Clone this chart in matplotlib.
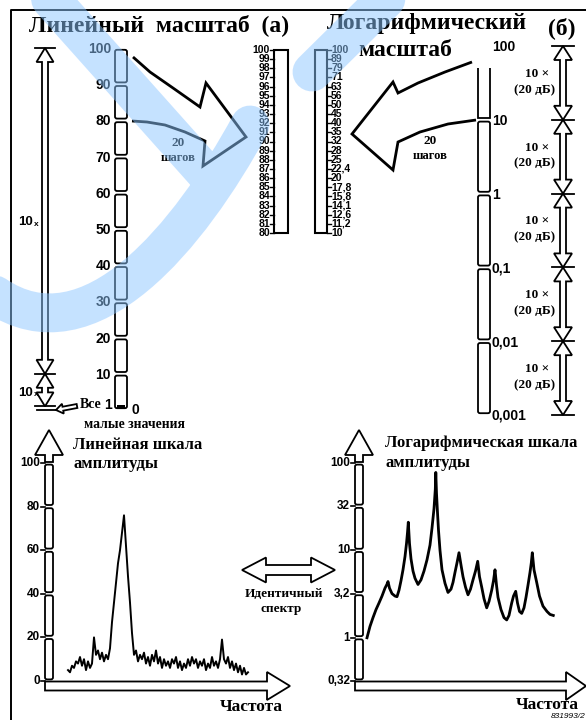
import numpy as np
import matplotlib
matplotlib.use("Agg")
import matplotlib.pyplot as plt
from matplotlib.patches import FancyBboxPatch, Polygon, PathPatch, Rectangle
from matplotlib.path import Path

W, H = 586, 720

# linear scale: coarse steps and the 80..100 stretch in single steps
lin_ticks = [0, 10, 20, 30, 40, 50, 60, 70, 80, 90, 100]
lin_fine = list(range(80, 101))
# logarithmic scale: decades and 1 dB steps between 10 and 100
log_ticks = [0.001, 0.01, 0.1, 1, 10, 100]
log_tick_labels = ["0,001", "0,01", "0,1", "1", "10", "100"]
log_fine_db = list(range(20, 41))
log_fine_labels = ["10", "11,2", "12,6", "14,1", "15,8", "17,8", "20", "22,4",
                   "25", "28", "32", "35", "40", "45", "50", "56", "63", "71",
                   "79", "89", "100"]

# amplitude axes of the two spectra
amp_lin_ticks = [0, 20, 40, 60, 80, 100]
amp_log_ticks = [0.32, 1, 3.2, 10, 32, 100]
amp_log_labels = ["0,32", "1", "3,2", "10", "32", "100"]

# spectrum on linear amplitude, one value per frequency step
spec_lin = [5, 4, 7, 6, 9, 8, 11, 7, 10, 5, 9, 6, 8, 20, 12, 14, 10, 13, 9, 12,
            10, 15, 27, 36, 45, 54, 60, 68, 76, 62, 48, 36, 22, 12, 14, 9, 12, 10,
            13, 8, 11, 7, 12, 9, 14, 8, 11, 6, 10, 7, 9, 6, 10, 8, 11, 6, 9, 5,
            8, 6, 10, 7, 11, 8, 10, 6, 9, 7, 10, 5, 8, 6, 11, 7, 9, 6, 10, 19,
            10, 8, 11, 6, 9, 5, 8, 4, 7, 3, 6, 3, 4]

# spectrum on logarithmic amplitude
spec_log_f = [0, 3, 6, 9, 12, 15, 18, 20, 21, 22.5, 25, 28, 30, 32, 34, 36,
              38, 39.5, 40.5, 41.3, 42.5, 44, 46, 48, 51, 54, 57, 60, 63, 65,
              67, 68.3, 68.8, 69.5, 70.5, 71.5, 73, 75, 78, 81, 84, 86, 88, 90,
              92, 94, 96, 98.5, 101, 103.5, 106, 108.5, 110.7, 112.5, 114.7,
              117, 119.7, 122, 124.7, 126.5, 128, 129.5, 131, 134, 137, 139.7,
              142, 144.7, 146.5, 148.7, 150.5, 152.5, 154.7, 157, 159, 161,
              163, 164.3, 165.3, 167, 169.7, 172.5, 176, 180, 183, 186.3]
spec_log_a = [1.0, 1.35, 1.7, 2.1, 2.5, 3.0, 3.7, 4.1, 4.4, 3.7, 3.2, 3.0,
              2.95, 3.5, 4.5, 6.0, 8.5, 12, 16, 21, 12, 8.0, 5.8, 4.8, 4.07,
              4.6, 5.8, 7.8, 11.5, 18, 30, 50, 78, 45, 27, 17, 10, 6.0, 4.2,
              3.3, 3.6, 4.3, 5.6, 7.2, 9.4, 6.8, 5.0, 3.8, 3.1, 3.6, 4.6, 5.8,
              7.5, 5.0, 3.8, 2.8, 2.2, 2.6, 3.5, 4.5, 6.0, 4.0, 2.9, 2.1, 1.7,
              1.6, 1.8, 2.5, 3.0, 3.4, 2.5, 2.0, 1.9, 2.2, 2.9, 4.0, 5.6, 7.2,
              9.4, 6.0, 4.3, 3.0, 2.3, 2.0, 1.85, 1.8]

SERIF = "Liberation Serif"
SANS = "Liberation Sans"

fig = plt.figure(figsize=(W / 100, H / 100), dpi=100)
cv = fig.add_axes([0, 0, 1, 1])
cv.set_xlim(0, W)
cv.set_ylim(H, 0)
cv.axis("off")


def sub_axes(x0, y0, x1, y1):
    a = fig.add_axes([x0 / W, 1 - y1 / H, (x1 - x0) / W, (y1 - y0) / H])
    a.axis("off")
    return a


def to_px(a, v):
    return H - a.transData.transform((0, v))[1]


def seg_box(x0, x1, ya, yb, gap=1.8, lw=1.3, r=2):
    yt, yb2 = min(ya, yb) + gap, max(ya, yb) - gap
    cv.add_patch(FancyBboxPatch((x0, yt), x1 - x0, yb2 - yt,
                                boxstyle=f"round,pad=0,rounding_size={r}",
                                fc="white", ec="black", lw=lw))


def hollow_arrow(p0, p1, shaft, head_w, head_l, heads=(False, True), lw=1.3):
    p0, p1 = np.array(p0, float), np.array(p1, float)
    d = p1 - p0
    u = d / np.hypot(*d)
    n = np.array([-u[1], u[0]])
    s, h = shaft / 2, head_w / 2
    pts = []
    if heads[0]:
        b0 = p0 + u * head_l
        pts += [p0, b0 + n * h, b0 + n * s]
    else:
        pts += [p0 + n * s]
    if heads[1]:
        b1 = p1 - u * head_l
        pts += [b1 + n * s, b1 + n * h, p1, b1 - n * h, b1 - n * s]
    else:
        pts += [p1 + n * s, p1 - n * s]
    if heads[0]:
        pts += [b0 - n * s, b0 - n * h]
    else:
        pts += [p0 - n * s]
    cv.add_patch(Polygon(pts, closed=True, fc="white", ec="black", lw=lw,
                         joinstyle="miter"))


def stack_arrows(x, ys, half=11, head_w=18):
    # chain of double arrows, X-crossings at the inner points
    for ya, yb in zip(ys[:-1], ys[1:]):
        hollow_arrow((x, ya), (x, yb), 6, head_w, 14, heads=(True, True))
    for y in ys:
        cv.plot([x - half, x + half], [y, y], color="black", lw=1.3)


def num(x, y, s, size=10, ha="right", **kw):
    cv.text(x, y, s, ha=ha, va="center", fontsize=size, fontweight="bold",
            family=SANS, **kw)


def word(x, y, s, size=10, ha="center", **kw):
    cv.text(x, y, s, ha=ha, va="center", fontsize=size, fontweight="bold",
            family=SERIF, **kw)


# frame
cv.plot([11, 11, W], [H, 10, 10], color="black", lw=1.4)

# titles
word(159, 25, "Линейный  масштаб  (а)", 17)
word(427, 24, "Логарифмический", 17)
word(405, 50, "масштаб", 17)
word(562, 28, "(б)", 17)

# ---- linear scale ----
lin_ax = sub_axes(115, 48, 127, 410)
lin_ax.set_ylim(0, 100)
for lo, hi in zip(lin_ticks[:-1], lin_ticks[1:]):
    seg_box(115, 127, to_px(lin_ax, hi), to_px(lin_ax, lo))
for v in lin_ticks[1:]:
    num(111, to_px(lin_ax, v) + 1, str(v), 10)
y0 = to_px(lin_ax, 0)
cv.add_patch(Rectangle((117, y0 - 5), 8, 3.5, fc="black", ec="none"))
num(131, y0, "0", 10, ha="left")

# decade arrows next to it
stack_arrows(45, [to_px(lin_ax, 100), to_px(lin_ax, 10), to_px(lin_ax, 1)],
             half=10, head_w=17)
cv.plot([37, 56], [to_px(lin_ax, 1) + 4] * 2, color="black", lw=1.3)
num(33, 222, "10", 9.5)
num(33, 393, "10", 9.5)
cv.text(34, 224, "x", fontsize=6, fontweight="bold", family=SANS, va="center")
cv.text(34, 395, "x", fontsize=6, fontweight="bold", family=SANS, va="center")
hollow_arrow((77, 406), (56, 410), 4, 10, 7)
word(80, 405, "Все", 10, ha="left")
num(104, 405, "1", 10, ha="left")
word(134, 424, "малые значения", 9.8)

# fine linear scale 80..100
fine_ax = sub_axes(274, 50, 288, 233)
fine_ax.set_ylim(80, 100)
cv.add_patch(Rectangle((274, to_px(fine_ax, 100)), 14,
                       to_px(fine_ax, 80) - to_px(fine_ax, 100),
                       fc="white", ec="black", lw=1.5))
for v in lin_fine:
    yy = to_px(fine_ax, v)
    cv.plot([270, 274], [yy, yy], color="black", lw=1)
    num(270, yy, str(v), 7.5)

# fine log scale 10..100 in 1 dB steps
flog_ax = sub_axes(315, 50, 327, 233)
flog_ax.set_yscale("log")
flog_ax.set_ylim(10, 100)
cv.add_patch(Rectangle((315, to_px(flog_ax, 100)), 12,
                       to_px(flog_ax, 10) - to_px(flog_ax, 100),
                       fc="white", ec="black", lw=1.5))
for db, s in zip(log_fine_db, log_fine_labels):
    yy = to_px(flog_ax, 10 ** (db / 20))
    cv.plot([327, 331], [yy, yy], color="black", lw=1)
    num(331, yy, s, 7.5, ha="left")

# ---- logarithmic scale ----
log_ax = sub_axes(478, 46, 490, 415)
log_ax.set_yscale("log")
log_ax.set_ylim(0.001, 100)
for lo, hi in zip(log_ticks[:-2], log_ticks[1:-1]):
    seg_box(478, 490, to_px(log_ax, hi), to_px(log_ax, lo))
y10 = to_px(log_ax, 10) - 1.8
ytop = to_px(log_ax, 100) + 22
cv.add_patch(PathPatch(Path([(478, ytop), (478, y10), (490, y10), (490, ytop)]),
                       fc="white", ec="black", lw=1.3))
for v, s in zip(log_ticks, log_tick_labels):
    num(492, to_px(log_ax, v) + 1, s, 10, ha="left")

stack_arrows(563, [to_px(log_ax, v) for v in log_ticks[::-1]])
for hi, lo in zip(log_ticks[::-1][:-1], log_ticks[::-1][1:]):
    ym = (to_px(log_ax, hi) + to_px(log_ax, lo)) / 2
    word(537, ym - 9, "10 ×", 9.5)
    word(535, ym + 7, "(20 дБ)", 9.5)

# ---- zigzag arrows between the scales ----
left_zz = [(133, 57), (150, 72), (173, 88), (200, 107), (206, 83), (246, 137),
           (203, 166), (205, 141), (185, 132), (165, 125), (147, 122), (132, 121)]
right_zz = [(472, 62), (445, 72), (418, 83), (398, 93), (393, 82), (352, 134),
            (393, 170), (398, 142), (420, 132), (448, 124), (476, 120)]
for zz in (left_zz, right_zz):
    cv.add_patch(Polygon(zz, closed=False, fc="white", ec="black", lw=2,
                         joinstyle="miter"))
word(178, 143, "20", 9.5)
word(178, 158, "шагов", 9)
word(430, 141, "20", 9.5)
word(430, 156, "шагов", 9)

# ---- spectrum, linear amplitude ----
spec_l = sub_axes(45, 463, 290, 681)
spec_l.set_ylim(0, 100)
spec_l.set_xlim(-11.5, 111)
spec_l.plot(range(len(spec_lin)), spec_lin, color="black", lw=1.4)
for lo, hi in zip(amp_lin_ticks[:-1], amp_lin_ticks[1:]):
    seg_box(45, 53, to_px(spec_l, hi), to_px(spec_l, lo), gap=1.6)
for v in amp_lin_ticks:
    yy = to_px(spec_l, v)
    cv.plot([41, 45], [yy, yy], color="black", lw=1.2)
    num(40, yy, str(v), 8.5)
hollow_arrow((49, 462), (49, 430), 8, 28, 25)
hollow_arrow((45, 686), (290, 686), 9, 28, 23)
word(73, 445, "Линейная шкала", 12, ha="left")
word(73, 464, "амплитуды", 12, ha="left")
word(251, 707, "Частота", 12.5)

# ---- spectrum, logarithmic amplitude ----
spec_r = sub_axes(355, 463, 586, 681)
spec_r.set_yscale("log")
spec_r.set_ylim(amp_log_ticks[0], amp_log_ticks[-1])
spec_r.set_xlim(-12, 219)
spec_r.plot(spec_log_f, spec_log_a, color="black", lw=2.0,
            solid_joinstyle="round")
for lo, hi in zip(amp_log_ticks[:-1], amp_log_ticks[1:]):
    seg_box(355, 363, to_px(spec_r, hi), to_px(spec_r, lo), gap=1.6)
for v, s in zip(amp_log_ticks, amp_log_labels):
    yy = to_px(spec_r, v)
    cv.plot([351, 355], [yy, yy], color="black", lw=1.2)
    num(350, yy, s, 8.5)
hollow_arrow((359, 462), (359, 430), 8, 28, 25)
hollow_arrow((355, 686), (586, 686), 9, 28, 20)
word(385, 443, "Логарифмическая шкала", 12, ha="left")
word(385, 463, "амплитуды", 12, ha="left")
word(547, 705, "Частота", 12.5)
cv.text(586, 720, "831993/2", fontsize=6, style="italic", family=SANS,
        ha="right", va="bottom")

# double arrow between the spectra
hollow_arrow((242, 570), (335, 570), 10, 25, 24, heads=(True, True))
word(284, 594, "Идентичный", 9.5)
word(281, 609, "спектр", 9.5)

# light blue mark laid over the sheet
wm = fig.add_axes([0, 0, 1, 1], zorder=10)
wm.set_xlim(0, W)
wm.set_ylim(H, 0)
wm.axis("off")
M, L, C = Path.MOVETO, Path.LINETO, Path.CURVE4
mark = Path([(47, -5), (212, 180),
             (400, -15), (312, 72),
             (250, 125), (190, 235), (90, 360), (-5, 295)],
            [M, L, M, L, M, C, C, C])
wm.add_patch(PathPatch(mark, fill=False, ec="#8dc6ff", alpha=0.5, lw=28,
                       capstyle="round", joinstyle="round"))

fig.savefig("out.png", dpi=100)
